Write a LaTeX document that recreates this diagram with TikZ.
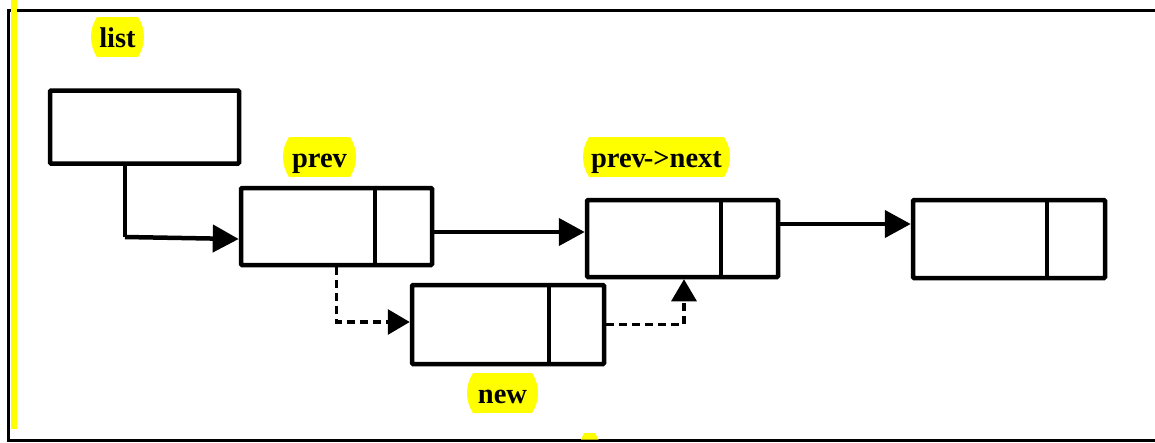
\documentclass[tikz,border=0pt]{standalone}
\usepackage{fontspec}
\setmainfont{Liberation Serif}
\usetikzlibrary{arrows.meta,calc}
\definecolor{hl}{RGB}{255,255,0}
\newcommand\lbltext[1]{\raisebox{-10.5pt}[0pt][0pt]{#1}}
\begin{document}
\begin{tikzpicture}[x=1pt,y=-1pt,
  cell/.style={draw,line width=4.5pt,rounded corners=1pt,inner sep=0pt,minimum width=191pt,minimum height=77pt},
  divider/.style={line width=4.5pt},
  link/.style={line width=4.5pt,-{Triangle[length=26pt,width=27pt]}},
  dlink/.style={line width=3.2pt,dash pattern=on 8pt off 5pt,-{Triangle[length=22pt,width=25pt]}},
  lbl/.style={font=\fontsize{28.5}{30}\selectfont\bfseries,inner sep=0pt,minimum height=40pt,
    path picture={\fill[hl] ([xshift=6pt]path picture bounding box.north west) -- ([xshift=-6pt]path picture bounding box.north east)
      arc[start angle=33.4,end angle=-33.4,radius=36.3pt] -- ([xshift=6pt]path picture bounding box.south west)
      arc[start angle=213.4,end angle=146.6,radius=36.3pt] -- cycle;}}
]
\useasboundingbox (0,0) rectangle (1155,442);
% frame
\draw[line width=3.5pt] (8.5,442) -- (8.5,10.5) -- (1155,10.5);
\draw[line width=2.5pt] (8.5,440.5) -- (1155,440.5);
\fill[hl] (11,0) rectangle (16.5,429);
\fill[hl] (584,433) -- (595,433) -- (598.5,439.5) -- (581,439.5) -- cycle;

% labels
\node[lbl,minimum width=53pt] (llist) at (117.5,37) {\lbltext{list}};
\node[lbl,minimum width=73pt] (lprev) at (319.5,157) {\lbltext{prev}};
\node[lbl,minimum width=147pt] (lpn) at (656.5,157) {\lbltext{prev\kern-2pt->next}};
\node[lbl,minimum width=71pt] (lnew) at (502.5,393) {\lbltext{new}};

% nodes
\node[cell,minimum width=189pt,minimum height=73pt] (list) at (144.5,127) {};
\node[cell] (prev) at (336.5,226.5) {};
\node[cell] (pn) at (682.5,238.5) {};
\node[cell,minimum width=192pt,minimum height=78pt] (last) at (1009,239) {};
\node[cell,minimum width=192pt,minimum height=79pt] (new) at (508,324.5) {};

% dividers
\draw[divider] (prev.north -| 375,0) -- (prev.south -| 375,0);
\draw[divider] (pn.north -| 721,0) -- (pn.south -| 721,0);
\draw[divider] (last.north -| 1047,0) -- (last.south -| 1047,0);
\draw[divider] (new.north -| 549,0) -- (new.south -| 549,0);

% connectors
\coordinate (bend) at (125,237);
\draw[line width=4.5pt] (list.south -| bend) -- (bend);
\draw[link] (bend) -- ([yshift=-12.5pt]prev.west);
\draw[link] ([yshift=-5.5pt]prev.east) -- ([yshift=-5.5pt]prev.east -| pn.west);
\draw[link] ([yshift=14.5pt]pn.east) -- ([yshift=14.5pt]pn.east -| last.west);
\draw[dlink] (prev.south) |- ([yshift=2.5pt]new.west);
\draw[dlink] (new.east) -| ([xshift=1.5pt]pn.south);
\end{tikzpicture}
\end{document}
